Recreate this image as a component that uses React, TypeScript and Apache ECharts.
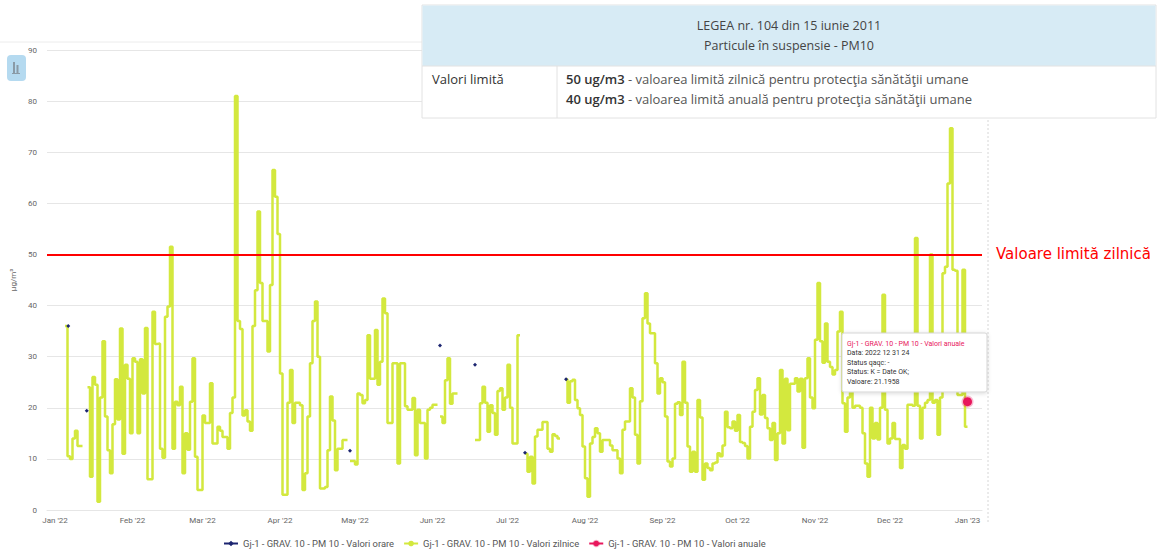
import React, { useEffect, useRef } from "react";
import * as echarts from "echarts";

// ---------- data ----------
const MONTH_NAMES = ["Jan", "Feb", "Mar", "Apr", "May", "Jun", "Jul", "Aug", "Sep", "Oct", "Nov", "Dec"];
const TICK_MONTHS: [number, number][] = [
  [2022, 0], [2022, 1], [2022, 2], [2022, 3], [2022, 4], [2022, 5], [2022, 6],
  [2022, 7], [2022, 8], [2022, 9], [2022, 10], [2022, 11], [2023, 0],
];

// daily values (µg/m³), one per day starting 2022-01-01; null = no data
const jan = [null, null, null, null, null, 36, 10.5, 10, 14, 15.5, 12.5, 12.5, null, null, 24, 6.5, 26, 24.5, 1.6, 22, 33, 18.3, 11.7, 7.2, 16.8, 25.6, 17.7, 35.5, 11, 28.4, 25.7];
const feb = [15, 29.7, 29, 15, 29.5, 22.8, 35.6, 6, 6, 38.8, 32.5, 32.6, 12, 10.2, 37.8, 39.8, 51.5, 12, 21.2, 20.5, 24.1, 7.2, 15, 11.8, 21.2, 29.7, 10.4, 3.9];
const mar = [3.9, 18.5, 17, 17, 24.8, 13, 13, 16.3, 15.5, 14.3, 14.3, 12, 19, 22, 81, 37, 35.4, 18.5, 19.5, 17.3, 15.5, 36, 43, 58.4, 44.4, 37, 37, 31, 44, 66.5, 61.3];
const apr = [54, 26.7, 3, 3, 21, 27.4, 17, 21, 21, 20.5, 3.9, 7.2, 18.3, 28.7, 37, 40.8, 30, 4.2, 4.2, 4.5, 11.7, 22.2, 17.5, 7.8, 12, 12, 13.7, 13.7, null, 9.6];
const may = [9.6, 8.9, 22.8, 22.5, 20.9, 21.5, 34.2, 25.7, 25.7, 35.2, 24.5, 29, 41.4, 38.5, 17, 17, 28.7, 28.7, 9.1, 28.7, 28.7, 20.3, 19.6, 19.6, 21.9, 10.7, 19.6, 17, 17, 10.1, 19.6];
const jun = [20, 20.6, 20.6, null, 18.3, 17, 25.4, 29.7, 20.8, 22.8, 22.8, null, null, null, null, null, null, null, 13.7, 13.7, 20.9, 24.1, 21, 15.3, 20.5, 19, 14.7, 23.3, 23.8, 19.6];
const jul = [22, 28.4, 20, 13, 13, 34.2, null, null, 11, 7.5, 10.4, 5.2, 14.4, 15.7, 15.7, 17.2, 17.2, 12, 11.4, 14.8, 14.5, 14, null, null, 25.6, 21, 25.2, 25.5, 21.5, 19.9, 18.6];
const aug = [12.4, 6.2, 2.6, 13, 14.3, 16, 15, 11.4, 13.7, 13.7, 13.7, 12.6, 11.7, 11.7, 10.1, 7.2, 15.7, 17.3, 17.3, 23.8, 22, 14.7, 9.1, 21.3, 37.5, 42.4, 36.5, 34.6, 34.6, 28.7, 22.8];
const sep = [25.8, 25, 18.3, 9.5, 8.5, 10.1, 20.8, 21.1, 18.6, 29, 21, 12.4, 7.5, 11.4, 7.5, 21.5, 18.1, 5.9, 9.1, 8.2, 7.8, 9.1, 9.3, 11.1, 10.5, 12.6, 19.2, 16.2, 16, 17.3];
const oct = [15.5, 18.6, 13.3, 13.1, 12.5, 10.1, 16.3, 19.2, 23.5, 25.8, 18.7, 22.5, 18, 16, 13.7, 17, 9.8, 15, 27.4, 13, 25.7, 15.6, 24.7, 24.7, 25.8, 23.2, 25.7, 12.2, 25.8, 29.7, 22];
const nov = [19.9, 33.3, 44.4, 33, 28.8, 36.5, 29, 28, 26.5, 27.4, 34.9, 38.8, 20.9, 15.3, 22, 25, 20, 20.4, 20.4, 20, 15, 9.1, 6.5, 20, 14, 17, 13.8, 20, 42.1, 19.6];
const dec = [13, 14, 17, 13.9, 13.9, 8.2, 12.7, 12, 20.6, 20.6, 20.4, 53.2, 20.4, 14, 20, 21, 21.5, 50, 21, 21.5, 14.7, 22, 46.3, 47.6, 63.9, 74.7, 47, 46.8, 22.5, 22.5, 47];
const jan2023 = [16.3];

// hourly values shown as isolated points
const hourlyTimes = ["2022-01-06T07:00", "2022-01-13T17:00", "2022-04-29T00:00", "2022-06-04T00:00", "2022-06-18T00:00", "2022-07-08T00:00", "2022-07-24T10:00"];
const hourlyValues = [36, 19.4, 11.6, 32.2, 28.4, 11.2, 25.6];

// annual value
const annualTime = "2023-01-01T00:00";
const annualLabel = "2022 12 31 24";
const annualValue = 21.1958;

const DAILY_LIMIT = 50;

const SERIES_HOURLY = "Gj-1 - GRAV. 10 - PM 10 - Valori orare";
const SERIES_DAILY = "Gj-1 - GRAV. 10 - PM 10 - Valori zilnice";
const SERIES_ANNUAL = "Gj-1 - GRAV. 10 - PM 10 - Valori anuale";

const FONT = "Roboto, 'Noto Sans', sans-serif";
const TABLE_FONT = "'Open Sans', 'Noto Sans', sans-serif";

export default function App() {
  const ref = useRef<HTMLDivElement | null>(null);

  useEffect(() => {
    if (!ref.current) return;
    const chart = echarts.init(ref.current, undefined, { renderer: "svg" });

    const DAY = 86400000;
    const start = new Date(2022, 0, 1).getTime();
    const toDay = (ts: number) => (ts - start) / DAY;

    const dailyValues = [...jan, ...feb, ...mar, ...apr, ...may, ...jun, ...jul, ...aug, ...sep, ...oct, ...nov, ...dec, ...jan2023];
    const dailyData = dailyValues.map((v, i) => [i, v === null ? "-" : v]);

    const hourlyData: any[] = [];
    hourlyTimes.forEach((t, i) => {
      const d = toDay(new Date(t).getTime());
      hourlyData.push([d, hourlyValues[i]]);
      hourlyData.push([d + 0.05, "-"]);
    });

    const annualDay = toDay(new Date(annualTime).getTime());
    const tickValues = TICK_MONTHS.map(([y, m]) => Math.round(toDay(new Date(y, m, 1).getTime())));
    const dayToLabel = (v: number) => {
      const d = new Date(2022, 0, 1 + Math.round(v));
      return `${MONTH_NAMES[d.getMonth()]} '${String(d.getFullYear()).slice(2)}`;
    };

    const option: any = {
      animation: false,
      textStyle: { fontFamily: FONT },
      grid: { left: 47, right: 179, top: 50, bottom: 40 },
      legend: {
        left: 223,
        top: 538,
        padding: 0,
        itemWidth: 14,
        itemHeight: 7,
        itemGap: 9,
        textStyle: { fontSize: 9.4, color: "#555", fontFamily: FONT, lineHeight: 11 },
        data: [SERIES_HOURLY, SERIES_DAILY, SERIES_ANNUAL],
      },
      xAxis: {
        type: "value",
        min: -3.2,
        max: 370.8,
        axisLine: { show: true, lineStyle: { color: "#e6e6e6" } },
        axisTick: { show: false, customValues: tickValues },
        splitLine: { show: false },
        axisLabel: {
          customValues: tickValues,
          fontSize: 8,
          color: "#666",
          margin: 6,
          formatter: (v: number) => dayToLabel(v),
        },
      },
      yAxis: {
        type: "value",
        min: 0,
        max: 90,
        interval: 10,
        name: "µg/m³",
        nameLocation: "middle",
        nameGap: 28,
        nameTextStyle: { fontSize: 8, color: "#666" },
        axisLine: { show: false },
        axisTick: { show: false },
        axisLabel: { fontSize: 8, color: "#666", margin: 10 },
        splitLine: { lineStyle: { color: "#e6e6e6", width: 1 } },
      },
      series: [
        {
          name: SERIES_HOURLY,
          type: "line",
          data: hourlyData,
          symbol: "diamond",
          symbolSize: 4,
          showSymbol: true,
          connectNulls: false,
          color: "#1c2570",
          lineStyle: { width: 1.5, color: "#1c2570" },
          itemStyle: { color: "#1c2570" },
          z: 4,
        },
        {
          name: SERIES_DAILY,
          type: "line",
          step: "start",
          data: dailyData,
          showSymbol: false,
          symbol: "circle",
          symbolSize: 5,
          connectNulls: false,
          color: "#d3e83e",
          lineStyle: { width: 2.5, color: "#d3e83e" },
          itemStyle: { color: "#d3e83e" },
          z: 3,
          markLine: {
            silent: true,
            symbol: ["none", "none"],
            lineStyle: { color: "#ff0000", width: 2, type: "solid" },
            label: {
              show: true,
              position: "end",
              distance: 14,
              formatter: "Valoare limită zilnică",
              color: "#ff0000",
              fontSize: 15,
              fontFamily: "'DejaVu Sans', sans-serif",
            },
            data: [{ yAxis: DAILY_LIMIT }],
          },
        },
        {
          name: SERIES_ANNUAL,
          type: "line",
          data: [[annualDay, annualValue]],
          symbol: "circle",
          symbolSize: 9,
          showSymbol: true,
          color: "#e8175d",
          lineStyle: { width: 1.5, color: "#e8175d" },
          itemStyle: { color: "#e8175d", borderColor: "rgba(232,23,93,0.3)", borderWidth: 3 },
          z: 70,
        },
      ],
      graphic: [
        { type: "line", silent: true, shape: { x1: 0, y1: 42, x2: 422, y2: 42 }, style: { stroke: "#ececec", lineWidth: 1 } },
        { type: "line", silent: true, shape: { x1: 988, y1: 120, x2: 988, y2: 522 }, style: { stroke: "#d6d6d6", lineWidth: 1, lineDash: [2, 2] } },
        {
          type: "group",
          silent: true,
          children: [
            { type: "rect", shape: { x: 7, y: 55, width: 19, height: 26, r: 4 }, style: { fill: "#b5daf0" } },
            { type: "rect", shape: { x: 13, y: 62, width: 2, height: 11 }, style: { fill: "#8a9aa6" } },
            { type: "rect", shape: { x: 16.5, y: 65, width: 2, height: 8 }, style: { fill: "#8a9aa6" } },
            { type: "rect", shape: { x: 12, y: 73, width: 8, height: 1 }, style: { fill: "#8a9aa6" } },
          ],
        },
        {
          type: "group",
          silent: true,
          z: 50,
          children: [
            { type: "rect", z: 50, shape: { x: 422, y: 5, width: 734, height: 113 }, style: { fill: "#ffffff", stroke: "#e2e2e2", lineWidth: 1 } },
            { type: "rect", z: 51, shape: { x: 422.5, y: 5.5, width: 733, height: 60.5 }, style: { fill: "#d7ebf5" } },
            { type: "line", z: 52, shape: { x1: 422, y1: 66, x2: 1156, y2: 66 }, style: { stroke: "#e2e2e2", lineWidth: 1 } },
            { type: "line", z: 52, shape: { x1: 557, y1: 66, x2: 557, y2: 118 }, style: { stroke: "#e2e2e2", lineWidth: 1 } },
            {
              type: "text", z: 53, x: 789, y: 25,
              style: { text: "LEGEA nr. 104 din 15 iunie 2011", fill: "#444", fontSize: 12.5, fontFamily: TABLE_FONT, align: "center", verticalAlign: "middle" },
            },
            {
              type: "text", z: 53, x: 789, y: 45,
              style: { text: "Particule în suspensie - PM10", fill: "#444", fontSize: 12.5, fontFamily: TABLE_FONT, align: "center", verticalAlign: "middle" },
            },
            {
              type: "text", z: 53, x: 432, y: 79,
              style: { text: "Valori limită", fill: "#333", fontSize: 13, fontFamily: TABLE_FONT, align: "left", verticalAlign: "middle" },
            },
            {
              type: "text", z: 53, x: 566, y: 79,
              style: {
                text: "{b|50 ug/m3} - valoarea limită zilnică pentru protecţia sănătăţii umane",
                fill: "#555", fontSize: 13, fontFamily: TABLE_FONT, align: "left", verticalAlign: "middle",
                rich: { b: { fill: "#333", fontWeight: 600, fontSize: 13, fontFamily: TABLE_FONT } },
              },
            },
            {
              type: "text", z: 53, x: 566, y: 99,
              style: {
                text: "{b|40 ug/m3} - valoarea limită anuală pentru protecţia sănătăţii umane",
                fill: "#555", fontSize: 13, fontFamily: TABLE_FONT, align: "left", verticalAlign: "middle",
                rich: { b: { fill: "#333", fontWeight: 600, fontSize: 13, fontFamily: TABLE_FONT } },
              },
            },
          ],
        },
        {
          type: "group",
          silent: true,
          z: 60,
          children: [
            {
              type: "rect", z: 60, shape: { x: 842, y: 333, width: 145, height: 59, r: 2 },
              style: { fill: "#ffffff", stroke: "#d5d5d5", lineWidth: 1, shadowBlur: 4, shadowColor: "rgba(0,0,0,0.15)", shadowOffsetY: 1 },
            },
            { type: "text", z: 61, x: 847, y: 343.5, style: { text: SERIES_ANNUAL, fill: "#e8175d", fontSize: 7, fontFamily: FONT, verticalAlign: "middle" } },
            { type: "text", z: 61, x: 847, y: 353.3, style: { text: `Data: ${annualLabel}`, fill: "#333", fontSize: 7, fontFamily: FONT, verticalAlign: "middle" } },
            { type: "text", z: 61, x: 847, y: 362.8, style: { text: "Status qaqc: -", fill: "#333", fontSize: 7, fontFamily: FONT, verticalAlign: "middle" } },
            { type: "text", z: 61, x: 847, y: 372, style: { text: "Status: K = Date OK;", fill: "#333", fontSize: 7, fontFamily: FONT, verticalAlign: "middle" } },
            { type: "text", z: 61, x: 847, y: 381.7, style: { text: `Valoare: ${annualValue}`, fill: "#333", fontSize: 7, fontFamily: FONT, verticalAlign: "middle" } },
          ],
        },
      ],
    };

    chart.setOption(option);
    return () => chart.dispose();
  }, []);

  return <div ref={ref} style={{ position: "fixed", left: 0, top: 0, width: 1161, height: 550, background: "#fff" }} />;
}
